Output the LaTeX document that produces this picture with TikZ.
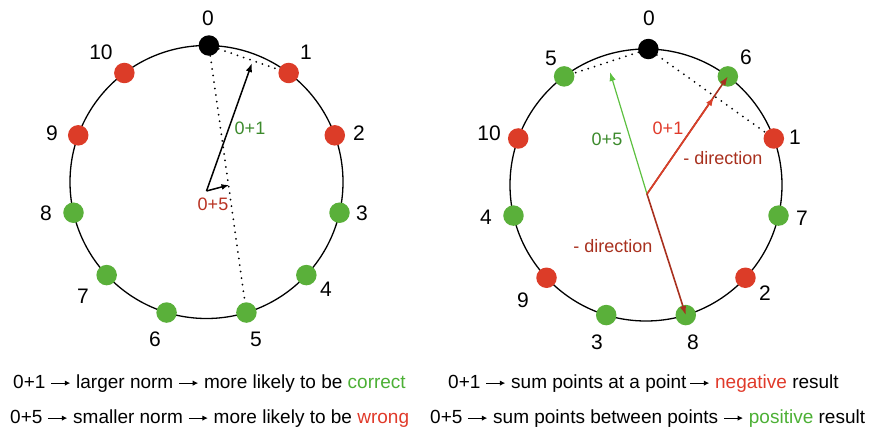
\documentclass[tikz,border=0pt]{standalone}
\usepackage{fontspec}
\setmainfont{Liberation Sans}
\usetikzlibrary{arrows.meta,calc}
\definecolor{dotred}{HTML}{DC3C28}
\definecolor{dotgreen}{HTML}{5AB03A}
\definecolor{txtgreen}{HTML}{4CB035}
\definecolor{txtred}{HTML}{E03A2A}
\definecolor{labgreen}{HTML}{3C8A2C}
\definecolor{labred}{HTML}{B83222}
\definecolor{darkred}{HTML}{A8301E}
\definecolor{arrgreen}{HTML}{5DC040}
\definecolor{arrred}{HTML}{D8402A}
\newcommand{\rarr}{\tikz[baseline=-4.9pt]{\draw[line width=1.2pt,black,-{Latex[length=5.5pt,width=5.5pt]}](0pt,0pt)--(19pt,0pt);}}
\begin{document}
\begin{tikzpicture}[x=1pt,y=-1pt,
  dot/.style={circle,inner sep=0pt,minimum size=20.5pt,draw=none,fill=#1},
  num/.style={font=\fontsize{21}{25}\selectfont,inner sep=0pt},
  lab/.style={font=\fontsize{18}{22}\selectfont,inner sep=0pt},
  ring/.style={line width=1.3pt},
  dotline/.style={line width=2pt,line cap=round,dash pattern=on 0pt off 6.6pt},
  vec/.style={line width=1.5pt,-{Latex[length=9pt,width=6.5pt]}},
  txt/.style={font=\fontsize{19}{23}\selectfont,anchor=base west,inner sep=0pt}]
\useasboundingbox (0,0) rectangle (873,434);
\coordinate (cL) at (206.5,182);
\coordinate (cR) at (646,185);
% circles
\draw[ring] (cL) circle[radius=136.5];
\draw[ring] (cR) circle[radius=136];
% left dots
\foreach \a/\v/\c in {-89/0/black,-53/1/dotred,-20/2/dotred,13/3/dotgreen,43/4/dotgreen,73/5/dotgreen,107/6/dotgreen,137/7/dotgreen,167/8/dotgreen,200/9/dotred,233/10/dotred}
  \node[dot=\c] (L\v) at ([shift={(\a:136.5)}]cL) {};
% right dots
\foreach \a/\v/\c in {-89/0/black,-53/6/dotgreen,-20/1/dotred,13/7/dotgreen,43/2/dotred,73/8/dotgreen,107/3/dotgreen,137/9/dotred,167/4/dotgreen,200/10/dotred,233/5/dotgreen}
  \node[dot=\c] (R\v) at ([shift={(\a:136)}]cR) {};
% left numbers
\foreach \v/\x/\y in {0/208/18,1/306/52,2/359/133,3/362/213,4/326/289,5/256/339,6/155/339,7/83/296,8/46/213,9/52/133,10/101/52}
  \node[num] (nL\v) at (\x,\y) {\v};
% right numbers
\foreach \v/\x/\y in {0/649/18,6/746/57,1/795/137,7/802/218,2/765/293,8/693/342,3/597/342,9/523/300,4/486/217,10/489/133,5/551/58}
  \node[num] (nR\v) at (\x,\y) {\v};
% dotted chords
\draw[dotline] (L0) -- (L1);
\draw[dotline] (L0) -- (L5);
\draw[dotline] (R0) -- (R5);
\draw[dotline] (R0) -- (R1);
% left vectors
\coordinate (oL) at (206.5,191);
\coordinate (tL1) at (252,63);
\coordinate (tL5) at (229,185);
\draw[vec] (oL) -- (tL1);
\draw[vec,-{Latex[length=7.5pt,width=6pt]}] (oL) -- (tL5);
\node[lab,text=labgreen] (aL1) at (250,128) {0+1};
\node[lab,text=labred] (aL5) at (213,204) {0+5};
% right vectors
\coordinate (oR) at (647,194);
\coordinate (tR5) at (610,72);
\coordinate (tR1) at (714,97);
\draw[line width=1.2pt,arrgreen,-{Latex[length=9pt,width=6.5pt]}] (oR) -- (tR5);
\draw[line width=1.6pt,darkred,-{Latex[length=9pt,width=6.5pt]}] (oR) -- (R6.center);
\draw[line width=1.6pt,arrred,-{Latex[length=9pt,width=6.5pt]}] (oR) -- (tR1);
\draw[line width=1.6pt,darkred,-{Latex[length=9pt,width=6.5pt]}] (oR) -- (R8.center);
\node[lab,text=labgreen] (aR5) at (607,139) {0+5};
\node[lab,text=txtred] (aR1) at (668,128) {0+1};
\node[lab,text=darkred] (dR1) at (723,158) {- direction};
\node[lab,text=darkred] (dR2) at (613,246) {- direction};
% bottom texts
\node[txt] (b1) at (13,388) {0+1 \rarr{} larger norm \rarr{} more likely to be \textcolor{txtgreen}{correct}};
\node[txt] (b2) at (10,423) {0+5 \rarr{} smaller norm \rarr{} more likely to be \textcolor{txtred}{wrong}};
\node[txt] (b3) at (448,388) {0+1 \rarr{} sum points at a point\,\rarr{} \textcolor{txtred}{negative} result};
\node[txt] (b4) at (430,423) {0+5 \rarr{} sum points between points \rarr{} \textcolor{txtgreen}{positive} result};
\end{tikzpicture}
\end{document}
